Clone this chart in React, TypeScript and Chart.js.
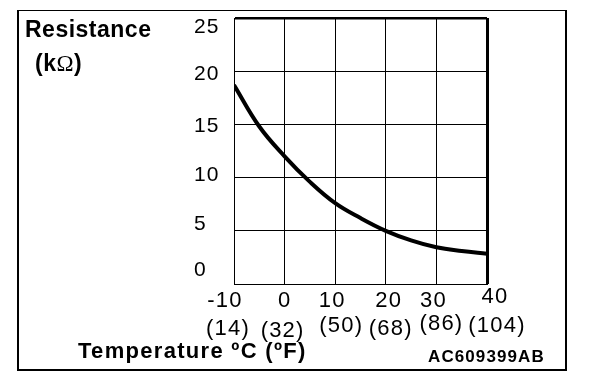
import { useEffect, useRef } from 'react';
import { Chart, registerables } from 'chart.js';

Chart.register(...registerables);

// ---- DATA ----
const temperaturesC = [-10, -5, 0, 5, 10, 15, 20, 25, 30, 35, 40];
const resistanceKOhm = [18.7, 14.8, 12.0, 9.6, 7.6, 6.2, 5.0, 4.1, 3.45, 3.1, 2.85];
const xTicksC = [-10, 0, 10, 20, 30, 40];
const xTicksF = ['(14)', '(32)', '(50)', '(68)', '(86)', '(104)'];
const yTicks = [0, 5, 10, 15, 20, 25];
const yTitleTop = 'Resistance';
const yTitleUnit = ['(k', 'Ω', ')'];
const xTitle = 'Temperature ºC (ºF)';
const figureCode = 'AC609399AB';

// ---- LAYOUT (label nudges, px) ----
const Y_LABEL_LEFT = 194;
const Y_BASELINE_NUDGE = [-8, -1, 3, 8, 9, 15];
const X1_NUDGE = [-9, 0, -3, 3, -3, 8];
const X1_BASE_NUDGE = [0, 0, 0, 0, 0, -4];
const X2_NUDGE = [-6, -2, 6, 5, 5, 10];
const X2_BASE_NUDGE = [3, 5, 0, 3, -2, 0];

const FONT = '"Liberation Sans", Arial, Helvetica, sans-serif';

function setSpacing(ctx: any, v: string) {
  if ('letterSpacing' in ctx) ctx.letterSpacing = v;
}

const textPlugin = {
  id: 'textPlugin',
  afterDraw(chart: any) {
    const ctx = chart.ctx as CanvasRenderingContext2D;
    const xs = chart.scales.x;
    const ys = chart.scales.y;
    ctx.save();
    ctx.fillStyle = '#000';
    // outer frame
    ctx.fillRect(18, 10, 549, 1);
    ctx.fillRect(17, 10, 2, 361);
    ctx.fillRect(565, 10, 2, 361);
    ctx.fillRect(17, 369, 550, 2);

    ctx.textBaseline = 'alphabetic';
    // y tick labels
    ctx.font = `21px ${FONT}`;
    setSpacing(ctx, '1px');
    ctx.textAlign = 'left';
    yTicks.forEach((v, i) => {
      ctx.fillText(String(v), Y_LABEL_LEFT, ys.getPixelForValue(v) + Y_BASELINE_NUDGE[i]);
    });
    // x tick labels
    ctx.font = `22px ${FONT}`;
    setSpacing(ctx, '1.2px');
    ctx.textAlign = 'center';
    const base1 = chart.chartArea.bottom + 23;
    const base2 = chart.chartArea.bottom + 48;
    xTicksC.forEach((v, i) => {
      const px = xs.getPixelForValue(v);
      ctx.fillText(String(v), px + X1_NUDGE[i], base1 + X1_BASE_NUDGE[i]);
      ctx.fillText(xTicksF[i], px + X2_NUDGE[i], base2 + X2_BASE_NUDGE[i]);
    });
    // titles
    ctx.textAlign = 'left';
    ctx.font = `bold 23px ${FONT}`;
    setSpacing(ctx, '0.5px');
    ctx.fillText(yTitleTop, 25, 37);
    let x = 35;
    ctx.fillText(yTitleUnit[0], x, 71);
    x += ctx.measureText(yTitleUnit[0]).width;
    ctx.font = `23px "Liberation Serif", "DejaVu Serif", serif`;
    ctx.fillText(yTitleUnit[1], x, 71);
    x += ctx.measureText(yTitleUnit[1]).width;
    ctx.font = `bold 23px ${FONT}`;
    ctx.fillText(yTitleUnit[2], x, 71);

    ctx.font = `bold 22px ${FONT}`;
    setSpacing(ctx, '1.3px');
    ctx.fillText(xTitle, 78, 358);
    ctx.font = `bold 17px ${FONT}`;
    setSpacing(ctx, '1.1px');
    ctx.fillText(figureCode, 428, 362);
    setSpacing(ctx, '0px');
    ctx.restore();
  },
};

export default function App() {
  const ref = useRef<HTMLCanvasElement>(null);
  useEffect(() => {
    if (!ref.current) return;
    const chart = new Chart(ref.current, {
      type: 'line',
      data: {
        datasets: [
          {
            data: temperaturesC.map((t, i) => ({ x: t, y: resistanceKOhm[i] })),
            borderColor: '#000',
            borderWidth: 4,
            pointRadius: 0,
            tension: 0.4,
            fill: false,
          },
        ],
      },
      options: {
        animation: false,
        responsive: false,
        devicePixelRatio: 1,
        layout: { padding: { left: Y_LABEL_LEFT, top: 18, right: 121, bottom: 0 } },
        plugins: {
          legend: { display: false },
          tooltip: { enabled: false },
          title: { display: false },
        },
        scales: {
          x: {
            type: 'linear',
            min: -10,
            max: 40,
            ticks: { stepSize: 10, display: false },
            grid: {
              color: '#000',
              lineWidth: (c: any) => (c.tick && c.tick.value === 40 ? 3 : 1),
              drawTicks: false,
            },
            border: { display: true, color: '#000', width: 1 },
            afterFit: (s: any) => {
              s.height = 94;
            },
          },
          y: {
            type: 'linear',
            min: 0,
            max: 25,
            ticks: { stepSize: 5, display: false },
            grid: {
              color: '#000',
              lineWidth: (c: any) => (c.tick && c.tick.value === 25 ? 2.5 : 1),
              drawTicks: false,
            },
            border: { display: true, color: '#000', width: 1 },
            afterFit: (s: any) => {
              s.width = 40;
            },
          },
        },
      },
      plugins: [textPlugin],
    } as any);
    return () => chart.destroy();
  }, []);
  return (
    <div style={{ position: 'absolute', left: 0, top: 0, width: 608, height: 378, background: '#fff' }}>
      <canvas ref={ref} width={608} height={378} style={{ display: 'block', width: 608, height: 378 }} />
    </div>
  );
}
